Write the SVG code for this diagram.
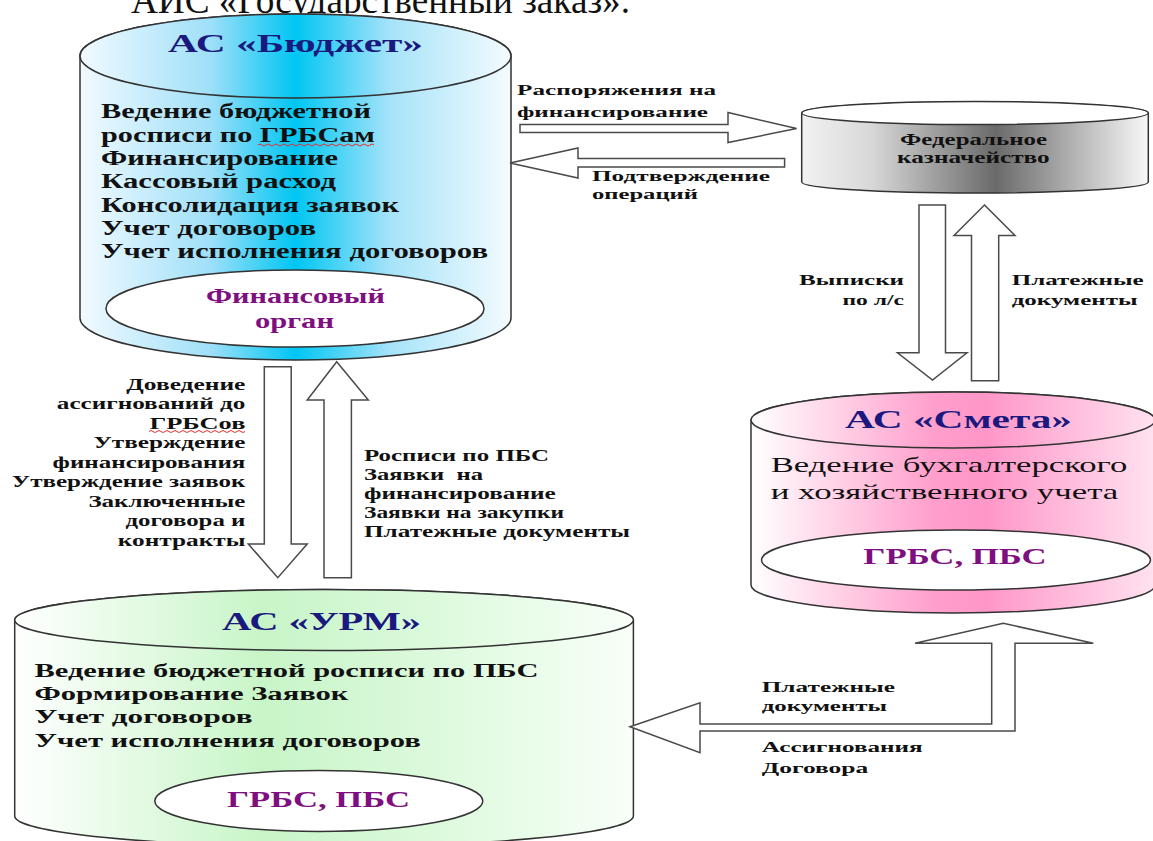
<svg xmlns="http://www.w3.org/2000/svg" width="1153" height="841" viewBox="0 0 1153 841">
<style>
.cyl{stroke:#333;stroke-width:1.5}
.inner{fill:#fff;stroke:#333;stroke-width:1.5}
.arr{fill:#fff;stroke:#4a4a4a;stroke-width:1.5;stroke-linejoin:miter}
.b{font-family:"Liberation Serif","Times New Roman",serif;font-weight:bold;fill:#111}
.r{font-family:"Liberation Serif","Times New Roman",serif;fill:#111}
.ttl{fill:#1a1a7e}
.pur{fill:#7f0f80}
.wavy{fill:none;stroke:#e03030;stroke-width:1}
</style>
<defs>
<clipPath id="topclip"><rect x="0" y="0" width="1153" height="13.5"/></clipPath>
<linearGradient id="gBlue" x1="0" y1="0" x2="1" y2="0">
<stop offset="0" stop-color="#f2faff"/><stop offset="0.3" stop-color="#a0e0f8"/><stop offset="0.5" stop-color="#00c6f3"/><stop offset="0.72" stop-color="#a6e3f9"/><stop offset="1" stop-color="#f4fbff"/>
</linearGradient>
<linearGradient id="gPink" x1="0" y1="0" x2="1" y2="0">
<stop offset="0" stop-color="#ffffff"/><stop offset="0.45" stop-color="#ff9fcc"/><stop offset="0.58" stop-color="#ff96c8"/><stop offset="1" stop-color="#ffe2f0"/>
</linearGradient>
<linearGradient id="gGreen" x1="0" y1="0" x2="1" y2="0">
<stop offset="0" stop-color="#ffffff"/><stop offset="0.4" stop-color="#c8f5c8"/><stop offset="0.6" stop-color="#d6f8d6"/><stop offset="1" stop-color="#f8fff8"/>
</linearGradient>
<linearGradient id="gGray" x1="0" y1="0" x2="1" y2="0">
<stop offset="0" stop-color="#f2f2f2"/><stop offset="0.2" stop-color="#d8d8d8"/><stop offset="0.56" stop-color="#6a6a6a"/><stop offset="1" stop-color="#f8f8f8"/>
</linearGradient>
</defs>

<text class="r" x="131" y="12.5" font-size="37" textLength="499" lengthAdjust="spacingAndGlyphs" clip-path="url(#topclip)">АИС «Государственный заказ».</text>

<g id="as-budget">
<path class="cyl" fill="url(#gBlue)" d="M80,56 L80,318 A215.5,42 0 0 0 511,318 L511,56 A215.5,42 0 0 0 80,56 Z"/>
<ellipse class="cyl" fill="url(#gBlue)" cx="295.5" cy="56" rx="215.5" ry="42"/>
<text class="b ttl" x="168" y="52" font-size="26" textLength="255" lengthAdjust="spacingAndGlyphs">АС «Бюджет»</text>
<text class="b" x="101" y="118.3" font-size="20" textLength="270" lengthAdjust="spacingAndGlyphs">Ведение бюджетной</text>
<text class="b" x="101" y="141.6" font-size="20" textLength="274" lengthAdjust="spacingAndGlyphs">росписи по ГРБСам</text>
<path class="wavy" d="M258,145 q2,-2 4,0 t4,0 t4,0 t4,0 t4,0 t4,0 t4,0 t4,0 t4,0 t4,0 t4,0 t4,0 t4,0 t4,0 t4,0 t4,0 t4,0 t4,0 t4,0 t4,0 t4,0 t4,0 t4,0 t4,0 t4,0 t4,0 t4,0 t4,0 t4,0"/>
<text class="b" x="101" y="164.9" font-size="20" textLength="237" lengthAdjust="spacingAndGlyphs">Финансирование</text>
<text class="b" x="101" y="188.2" font-size="20" textLength="235" lengthAdjust="spacingAndGlyphs">Кассовый расход</text>
<text class="b" x="101" y="211.5" font-size="20" textLength="298" lengthAdjust="spacingAndGlyphs">Консолидация заявок</text>
<text class="b" x="101" y="234.8" font-size="20" textLength="215" lengthAdjust="spacingAndGlyphs">Учет договоров</text>
<text class="b" x="101" y="258" font-size="20" textLength="387" lengthAdjust="spacingAndGlyphs">Учет исполнения договоров</text>
<ellipse class="inner" cx="295" cy="308.5" rx="189" ry="38.5"/>
<text class="b pur" x="206" y="303" font-size="21" textLength="179" lengthAdjust="spacingAndGlyphs">Финансовый</text>
<text class="b pur" x="255" y="328" font-size="21" textLength="79" lengthAdjust="spacingAndGlyphs">орган</text>
</g>

<g id="treasury">
<path class="cyl" fill="url(#gGray)" d="M801.7,113 L801.7,182 A173.3,11 0 0 0 1148.3,182 L1148.3,113 A173.3,11 0 0 0 801.7,113 Z"/>
<ellipse class="cyl" fill="#fff" cx="975" cy="113" rx="173.3" ry="11.5"/>
<text class="b" x="900" y="145" font-size="17" textLength="147" lengthAdjust="spacingAndGlyphs">Федеральное</text>
<text class="b" x="897" y="163.3" font-size="17" textLength="152.6" lengthAdjust="spacingAndGlyphs">казначейство</text>
</g>

<g id="as-smeta">
<path class="cyl" fill="url(#gPink)" d="M751,420 L751,585 A202,28 0 0 0 1155,585 L1155,420 A202,28 0 0 0 751,420 Z"/>
<ellipse class="cyl" fill="url(#gPink)" cx="953" cy="420" rx="202" ry="28"/>
<text class="b ttl" x="845" y="427.7" font-size="25" textLength="227" lengthAdjust="spacingAndGlyphs">АС «Смета»</text>
<text class="r" x="770.7" y="471.7" font-size="22" textLength="356.6" lengthAdjust="spacingAndGlyphs">Ведение бухгалтерского</text>
<text class="r" x="770.7" y="499.3" font-size="22" textLength="347.6" lengthAdjust="spacingAndGlyphs">и хозяйственного учета</text>
<ellipse class="inner" cx="956" cy="560" rx="194.5" ry="30"/>
<text class="b pur" x="863.3" y="564.3" font-size="24" textLength="183.4" lengthAdjust="spacingAndGlyphs">ГРБС, ПБС</text>
</g>

<g id="as-urm">
<path class="cyl" fill="url(#gGreen)" d="M14.7,620 L14.7,816 A309.35,30.5 0 0 0 633.4,816 L633.4,620 A309.35,30.5 0 0 0 14.7,620 Z"/>
<ellipse class="cyl" fill="url(#gGreen)" cx="324.05" cy="620" rx="309.35" ry="30.5"/>
<text class="b ttl" x="222" y="630" font-size="25" textLength="199" lengthAdjust="spacingAndGlyphs">АС «УРМ»</text>
<text class="b" x="34.5" y="676.7" font-size="18" textLength="504" lengthAdjust="spacingAndGlyphs">Ведение бюджетной росписи по ПБС</text>
<text class="b" x="34.5" y="700" font-size="18" textLength="314" lengthAdjust="spacingAndGlyphs">Формирование Заявок</text>
<text class="b" x="34.5" y="723.3" font-size="18" textLength="218" lengthAdjust="spacingAndGlyphs">Учет договоров</text>
<text class="b" x="34.5" y="746.7" font-size="18" textLength="386.4" lengthAdjust="spacingAndGlyphs">Учет исполнения договоров</text>
<ellipse class="inner" cx="318.8" cy="801" rx="164" ry="30.5"/>
<text class="b pur" x="227" y="806.7" font-size="23" textLength="183" lengthAdjust="spacingAndGlyphs">ГРБС, ПБС</text>
</g>

<g id="connectors">
<polygon class="arr" points="520,124.5 728,124.5 728,112.5 796.6,128.5 728,142.5 728,132.5 520,132.5"/>
<polygon class="arr" points="510,163 578,148 578,158.5 784.6,158.5 784.6,167 578,167 578,178"/>
<polygon class="arr" points="264.3,366.7 291.2,366.7 291.2,544 307.2,544 277.8,577.7 248.3,544 264.3,544"/>
<polygon class="arr" points="336.7,361.7 368.3,400 351.4,400 351.4,577.7 324,577.7 324,400 307.2,400"/>
<polygon class="arr" points="919,205 945.5,205 945.5,352.8 967,352.8 932.5,380 897.5,352.8 919,352.8"/>
<polygon class="arr" points="984.5,205 1015,235.5 998.7,235.5 998.7,380.7 971.5,380.7 971.5,235.5 954,235.5"/>
<polygon class="arr" points="630,726.7 700,702.7 700,724 991.7,724 991.7,643.3 915,643.3 1003.3,623.3 1093.3,643.3 1015,643.3 1015,731 700,731 700,752.7"/>
</g>

<g id="labels">
<text class="b" x="517" y="95" font-size="15" textLength="199" lengthAdjust="spacingAndGlyphs">Распоряжения на</text>
<text class="b" x="517" y="116.7" font-size="15" textLength="191" lengthAdjust="spacingAndGlyphs">финансирование</text>
<text class="b" x="592" y="180.7" font-size="15" textLength="178" lengthAdjust="spacingAndGlyphs">Подтверждение</text>
<text class="b" x="592" y="199.3" font-size="15" textLength="106" lengthAdjust="spacingAndGlyphs">операций</text>
<text class="b" x="799" y="285" font-size="15" textLength="105" lengthAdjust="spacingAndGlyphs">Выписки</text>
<text class="b" x="842.5" y="305" font-size="15" textLength="61.5" lengthAdjust="spacingAndGlyphs">по л/с</text>
<text class="b" x="1011.7" y="285" font-size="15" textLength="132" lengthAdjust="spacingAndGlyphs">Платежные</text>
<text class="b" x="1011.7" y="305" font-size="15" textLength="125.8" lengthAdjust="spacingAndGlyphs">документы</text>

<text class="b" x="126.3" y="389.5" font-size="16" textLength="119.1" lengthAdjust="spacingAndGlyphs">Доведение</text>
<text class="b" x="56.8" y="409" font-size="16" textLength="188.6" lengthAdjust="spacingAndGlyphs">ассигнований до</text>
<text class="b" x="149.4" y="428.5" font-size="16" textLength="96" lengthAdjust="spacingAndGlyphs">ГРБСов</text>
<path class="wavy" d="M149,431.5 q2,-2 4,0 t4,0 t4,0 t4,0 t4,0 t4,0 t4,0 t4,0 t4,0 t4,0 t4,0 t4,0 t4,0 t4,0 t4,0 t4,0 t4,0 t4,0 t4,0 t4,0 t4,0 t4,0 t4,0 t4,0"/>
<text class="b" x="93.4" y="448" font-size="16" textLength="152" lengthAdjust="spacingAndGlyphs">Утверждение</text>
<text class="b" x="52.6" y="467.5" font-size="16" textLength="192.8" lengthAdjust="spacingAndGlyphs">финансирования</text>
<text class="b" x="11.8" y="487" font-size="16" textLength="233.6" lengthAdjust="spacingAndGlyphs">Утверждение заявок</text>
<text class="b" x="88.4" y="506.5" font-size="16" textLength="157" lengthAdjust="spacingAndGlyphs">Заключенные</text>
<text class="b" x="125.4" y="526" font-size="16" textLength="120" lengthAdjust="spacingAndGlyphs">договора и</text>
<text class="b" x="117.8" y="545.5" font-size="16" textLength="127.6" lengthAdjust="spacingAndGlyphs">контракты</text>

<text class="b" x="364" y="460.7" font-size="16" textLength="185" lengthAdjust="spacingAndGlyphs">Росписи по ПБС</text>
<text class="b" x="364" y="480" font-size="16" textLength="119" lengthAdjust="spacingAndGlyphs" xml:space="preserve">Заявки  на</text>
<text class="b" x="364" y="499.3" font-size="16" textLength="191.6" lengthAdjust="spacingAndGlyphs">финансирование</text>
<text class="b" x="364" y="518.3" font-size="16" textLength="200" lengthAdjust="spacingAndGlyphs">Заявки на закупки</text>
<text class="b" x="364" y="537.3" font-size="16" textLength="266" lengthAdjust="spacingAndGlyphs">Платежные документы</text>

<text class="b" x="761.7" y="691.7" font-size="15" textLength="133.3" lengthAdjust="spacingAndGlyphs">Платежные</text>
<text class="b" x="761.7" y="710.7" font-size="15" textLength="125.3" lengthAdjust="spacingAndGlyphs">документы</text>
<text class="b" x="761.7" y="751.7" font-size="15" textLength="161" lengthAdjust="spacingAndGlyphs">Ассигнования</text>
<text class="b" x="761.7" y="772.7" font-size="15" textLength="106.6" lengthAdjust="spacingAndGlyphs">Договора</text>
</g>
</svg>
